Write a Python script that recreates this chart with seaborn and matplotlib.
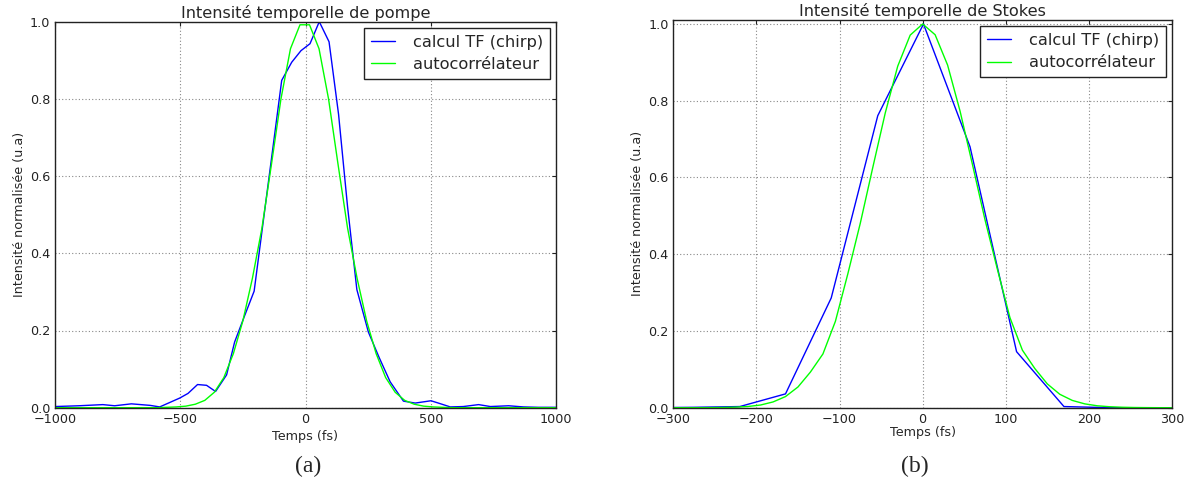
import matplotlib
matplotlib.use("Agg")
import matplotlib.pyplot as plt
import seaborn as sns

# (a) pompe : calcul TF (chirp)
pompe_tf_t = [-1000, -905, -809, -762, -695, -620, -582, -502, -469, -431, -395, -359,
              -315, -283, -245, -205, -168, -130, -95, -55, -18, 18, 55, 94, 132, 168,
              205, 251, 294, 338, 391, 438, 501, 540, 578, 630, 691, 738, 811, 870, 930, 1000]
pompe_tf_i = [0.003, 0.005, 0.008, 0.005, 0.010, 0.006, 0.002, 0.025, 0.037, 0.060, 0.058, 0.042,
              0.085, 0.17, 0.235, 0.302, 0.486, 0.674, 0.848, 0.895, 0.925, 0.943, 1.0, 0.948, 0.76, 0.52,
              0.306, 0.196, 0.13, 0.067, 0.017, 0.012, 0.018, 0.010, 0.002, 0.003, 0.008, 0.003, 0.005, 0.002, 0.001, 0.001]

# (a) pompe : autocorrelateur
pompe_ac_t = [-1000, -592, -554, -516, -478, -440, -402, -364, -326, -288, -250, -212, -174,
              -136, -98, -60, -22, 16, 54, 92, 130, 168, 206, 244, 282, 320, 358, 396,
              434, 472, 510, 548, 586, 1000]
pompe_ac_i = [0.0, 0.0, 0.001, 0.002, 0.004, 0.009, 0.019, 0.04, 0.078, 0.14, 0.225, 0.335, 0.465,
              0.63, 0.80, 0.93, 0.992, 0.992, 0.93, 0.80, 0.63, 0.465, 0.335, 0.225, 0.14, 0.078, 0.04, 0.019,
              0.009, 0.004, 0.002, 0.001, 0.0, 0.0]

# (b) Stokes : calcul TF (chirp)
stokes_tf_t = [-332, -276, -220, -165, -110, -54, 1, 57, 113, 170, 225, 280, 336]
stokes_tf_i = [0.0, 0.001, 0.003, 0.036, 0.286, 0.761, 1.0, 0.68, 0.146, 0.003, 0.0, 0.0, 0.0]

# (b) Stokes : autocorrelateur
stokes_ac_t = [-300, -285, -270, -255, -240, -225, -210, -195, -180, -165, -150, -135, -120, -105,
               -90, -75, -60, -45, -30, -15, 0, 15, 30, 45, 60, 75, 90, 105, 120, 135, 150, 165,
               180, 195, 210, 225, 240, 255, 270, 285, 300]
stokes_ac_i = [0.0, 0.0, 0.0, 0.0002, 0.0006, 0.0014, 0.0032, 0.007, 0.015, 0.029, 0.054, 0.093, 0.14, 0.225,
               0.349, 0.481, 0.626, 0.768, 0.890, 0.971, 1.0, 0.972, 0.893, 0.773, 0.633, 0.49, 0.36, 0.235,
               0.15, 0.102, 0.062, 0.035, 0.019, 0.010, 0.005, 0.0025, 0.0012, 0.0005, 0.0002, 0.0, 0.0]

lab_tf = 'calcul TF (chirp)'
lab_ac = 'autocorrélateur'
c_tf = '#0000ff'
c_ac = '#00ff00'

sns.set_style("white")
plt.rcParams['font.family'] = ['DejaVu Sans']
plt.rcParams['axes.edgecolor'] = '#222222'
plt.rcParams['axes.linewidth'] = 1.0

W, H = 1193, 488
fig = plt.figure(figsize=(W / 100, H / 100), dpi=100)
ax1 = fig.add_axes([55 / W, 1 - 407.7 / H, 501 / W, 386 / H])
ax2 = fig.add_axes([673.3 / W, 1 - 407.7 / H, 498.7 / W, 387.7 / H])


def style_ax(ax, title, xlim, ylim, xticks, labelpad):
    ax.set_xlim(xlim)
    ax.set_ylim(ylim)
    ax.set_xticks(xticks)
    ax.set_yticks([0.0, 0.2, 0.4, 0.6, 0.8, 1.0])
    ax.grid(True, color='#888888', linestyle=(0, (1, 2)), linewidth=0.8)
    ax.tick_params(direction='in', top=True, right=True, length=3, width=0.8,
                   labelsize=9.2, pad=3.5, colors='#222222')
    ax.set_title(title, fontsize=11.6, pad=3)
    ax.set_xlabel('Temps (fs)', fontsize=9.2, labelpad=labelpad)
    ax.set_ylabel('Intensité normalisée (u.a)', fontsize=9.2, labelpad=3)
    leg = ax.legend(loc='upper right', fontsize=11.7, frameon=True, fancybox=False,
                    framealpha=1, edgecolor='#222222', handlelength=1.5,
                    handletextpad=1.1, borderpad=0.4, labelspacing=0.45, borderaxespad=0.4)
    leg.get_frame().set_linewidth(1.0)


sns.lineplot(x=pompe_tf_t, y=pompe_tf_i, ax=ax1, color=c_tf, lw=1.0, label=lab_tf, estimator=None, sort=False)
sns.lineplot(x=pompe_ac_t, y=pompe_ac_i, ax=ax1, color=c_ac, lw=1.0, label=lab_ac, estimator=None, sort=False)
style_ax(ax1, 'Intensité temporelle de pompe', (-1000, 1000), (0, 1.0), [-1000, -500, 0, 500, 1000], 3.5)

sns.lineplot(x=stokes_tf_t, y=stokes_tf_i, ax=ax2, color=c_tf, lw=1.0, label=lab_tf, estimator=None, sort=False)
sns.lineplot(x=stokes_ac_t, y=stokes_ac_i, ax=ax2, color=c_ac, lw=1.0, label=lab_ac, estimator=None, sort=False)
style_ax(ax2, 'Intensité temporelle de Stokes', (-300, 300), (0, 1.0104), [-300, -200, -100, 0, 100, 200, 300], 0)

fig.text(307.7 / W, 1 - 466.7 / H, '(a)', family='Liberation Serif', fontsize=17, ha='center', va='center')
fig.text(915 / W, 1 - 466.7 / H, '(b)', family='Liberation Serif', fontsize=17, ha='center', va='center')

fig.savefig('out.png', dpi=100)
